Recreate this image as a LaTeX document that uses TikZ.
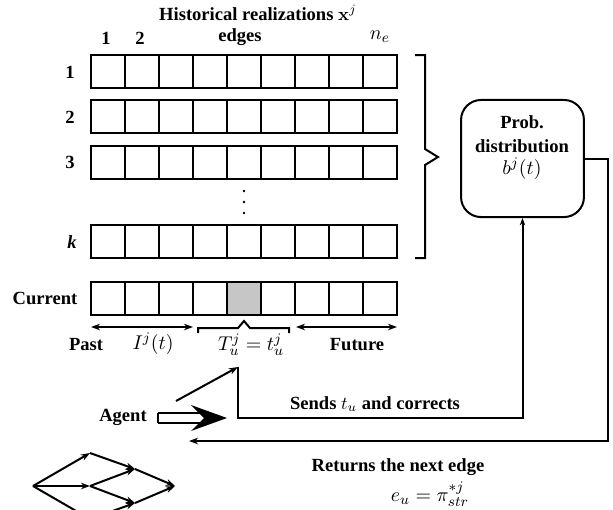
\documentclass[tikz,border=0pt]{standalone}
\usepackage[no-math]{fontspec}
\setmainfont{Liberation Serif}
\usetikzlibrary{arrows.meta}
\tikzset{atip/.tip={Stealth[length=5pt,width=3.6pt]},
         stip/.tip={Stealth[length=4pt,width=3pt]}}
\begin{document}
\begin{tikzpicture}[x=0.55pt,y=-0.55pt,
  lbl/.style={font=\fontsize{10.2}{12}\selectfont\bfseries, inner sep=1pt},
  mth/.style={font=\fontsize{10.8}{12}\selectfont, inner sep=0.5pt},
  cellline/.style={line width=0.65pt},
  conn/.style={line width=1.1pt},
  thinarr/.style={line width=0.85pt}]
\clip (0,0) rectangle (613,509);
% titles
\node[lbl] (title) at (258,13) {Historical realizations $\mathbf{x}^{j}$};
\node[lbl] (h1) at (106,38) {1};
\node[lbl] (h2) at (140,38) {2};
\node[lbl] (hedges) at (240,37) {edges};
\node[mth] (hne) at (380,37) {$n_e$};
% shaded current cell
\fill[gray!45] (227,282) rectangle (261,315);
% rows
\foreach \t in {55,100,146,225,282}{
  \draw[cellline] (91,\t) rectangle (397,{\t+33});
  \foreach \i in {1,...,8} \draw[cellline] ({91+34*\i},\t) -- ++(0,33);
}
\node[lbl] (l1) at (70,72) {1};
\node[lbl] (l2) at (70,117) {2};
\node[lbl] (l3) at (70,162) {3};
\node[lbl] (lk) at (72,242) {\textit{k}};
\node[lbl] (lcur) at (45,298) {Current};
% vertical dots
\foreach \yy in {191,202,213} \fill (244,\yy) circle (0.7pt);
% past / present / future
\coordinate (pa1) at (91,327); \coordinate (pa2) at (193,327);
\coordinate (fu1) at (296,327); \coordinate (fu2) at (397,327);
\draw[thinarr,{atip}-{atip}] (pa1) -- (pa2);
\draw[thinarr,{atip}-{atip}] (fu1) -- (fu2);
\draw[line width=1.1pt] (198,333) -- (198,328) -- (238,328) -- (244,321) -- (250,328) -- (289,328) -- (289,333);
\node[lbl] (past) at (86,345) {Past};
\node[mth] (ij) at (153,344) {$I^{j}(t)$};
\node[mth] (tu) at (251,345) {$T_u^{j}=t_u^{j}$};
\node[lbl] (fut) at (357,345) {Future};
% right bracket
\draw[line width=1.1pt] (415,55) -- (425,55) -- (425,149) -- (438,157) -- (425,165) -- (425,258) -- (415,258);
% probability box
\node[draw, line width=1.1pt, rounded corners=11pt, minimum width=67.6pt, minimum height=64.4pt] (prob) at (522.5,158.5) {};
\node[lbl] (pt1) at (522,122) {Prob.};
\node[lbl] (pt2) at (522,146) {distribution};
\node[mth] (pt3) at (522,169) {$b^{j}(t)$};
% agent
\node[lbl] (agent) at (123,417) {Agent};
\draw[line width=0.9pt] (158,413) -- (206,413);
\draw[line width=0.9pt] (158,423) -- (206,423);
\draw[line width=0.9pt] (158,413) -- (158,423);
\coordinate (ah) at (227,418);
\fill (ah) -- (191,405) -- (204,418) -- (191,431) -- cycle;
% sends loop
\coordinate (ag) at (176,401);
\coordinate (tT) at (238,367);
\coordinate (sb) at (238,418);
\draw[conn,-{atip}] (ag) -- (tT);
\draw[conn,-{stip}] (tT) -- (sb) -| (prob.south);
\node[lbl] (sends) at (375,404) {Sends $t_u$ and corrects};
% return
\coordinate (rc) at (608,441);
\coordinate (rt) at (189,441);
\draw[conn,-{atip}] (prob.east) -| (rc) -- (rt);
\node[lbl] (ret) at (398,467) {Returns the next edge};
\node[mth] (eu) at (430,494) {$e_u=\pi^{*j}_{str}$};
% small graph
\coordinate (A) at (33,486);
\coordinate (B) at (90,453);
\coordinate (C) at (90,486);
\coordinate (G) at (90,519);
\coordinate (D) at (135,469);
\coordinate (E) at (135,503);
\coordinate (F) at (175,486);
\coordinate (H) at (135,536);
\foreach \s/\d in {A/B,A/C,A/G,B/D,C/D,C/E,D/F,E/F,G/E,G/H}
  \draw[conn,-{atip}] (\s) -- (\d);
\end{tikzpicture}
\end{document}
